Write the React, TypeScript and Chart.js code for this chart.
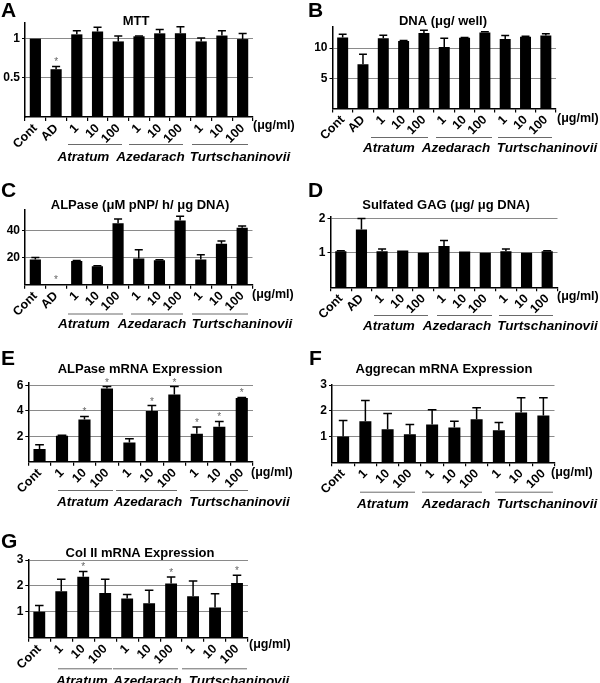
import React, { useEffect, useRef } from 'react';
import { Chart, registerables } from 'chart.js';

Chart.register(...registerables);

const FONT = '"Liberation Sans", Arial, Helvetica, sans-serif';
Chart.defaults.font.family = FONT;

// ---------- categories ----------
const catsWithAD = ['Cont', 'AD', '1', '10', '100', '1', '10', '100', '1', '10', '100'];
const catsNoAD = ['Cont', '1', '10', '100', '1', '10', '100', '1', '10', '100'];
const groupNames = ['Atratum', 'Azedarach', 'Turtschaninovii'];
const unitLabel = '(μg/ml)';

// ---------- A: MTT ----------
const mttValues = [1.0, 0.61, 1.055, 1.09, 0.965, 1.03, 1.068, 1.068, 0.965, 1.04, 0.995];
const mttErr = [0, 0.035, 0.045, 0.055, 0.07, 0.005, 0.05, 0.085, 0.045, 0.06, 0.07];
const mttSig = [0, 1, 0, 0, 0, 0, 0, 0, 0, 0, 0];
const mttTicks = [0.5, 1];

// ---------- B: DNA ----------
const dnaValues = [11.75, 7.35, 11.65, 11.2, 12.5, 10.2, 11.7, 12.6, 11.5, 11.9, 12.1];
const dnaErr = [0.55, 1.65, 0.5, 0.05, 0.45, 1.45, 0.05, 0.1, 0.6, 0.05, 0.3];
const dnaSig = [0, 0, 0, 0, 0, 0, 0, 0, 0, 0, 0];
const dnaTicks = [5, 10];

// ---------- C: ALPase activity ----------
const alpValues = [18.5, 0.6, 17.5, 13.6, 45.3, 19.3, 18.0, 47.3, 18.5, 30.1, 41.9];
const alpErr = [1.5, 0, 0.3, 0.3, 3.1, 6.5, 0.4, 3.1, 3.6, 2.0, 1.4];
const alpSig = [0, 1, 0, 0, 0, 0, 0, 0, 0, 0, 0];
const alpTicks = [20, 40];

// ---------- D: Sulfated GAG ----------
const gagValues = [1.05, 1.68, 1.05, 1.07, 1.0, 1.2, 1.04, 1.0, 1.05, 1.0, 1.05];
const gagErr = [0.01, 0.32, 0.06, 0, 0, 0.16, 0, 0, 0.06, 0, 0.01];
const gagSig = [0, 0, 0, 0, 0, 0, 0, 0, 0, 0, 0];
const gagTicks = [1, 2];

// ---------- E: ALPase mRNA ----------
const alpMrnaValues = [1.0, 2.04, 3.32, 5.74, 1.51, 3.97, 5.27, 2.19, 2.74, 4.99];
const alpMrnaErr = [0.33, 0.03, 0.23, 0.16, 0.29, 0.44, 0.63, 0.53, 0.42, 0.05];
const alpMrnaSig = [0, 0, 1, 1, 0, 1, 1, 1, 1, 1];
const alpMrnaTicks = [2, 4, 6];

// ---------- F: Aggrecan mRNA ----------
const aggValues = [1.0, 1.59, 1.28, 1.09, 1.47, 1.35, 1.67, 1.24, 1.93, 1.82];
const aggErr = [0.62, 0.81, 0.61, 0.38, 0.57, 0.24, 0.45, 0.3, 0.58, 0.69];
const aggSig = [0, 0, 0, 0, 0, 0, 0, 0, 0, 0];
const aggTicks = [1, 2, 3];

// ---------- G: Col II mRNA ----------
const colValues = [1.0, 1.79, 2.35, 1.73, 1.51, 1.33, 2.09, 1.6, 1.17, 2.11];
const colErr = [0.24, 0.47, 0.21, 0.53, 0.16, 0.5, 0.25, 0.59, 0.53, 0.3];
const colSig = [0, 0, 1, 0, 0, 0, 1, 0, 0, 1];
const colTicks = [1, 2, 3];

type PanelCfg = {
  box: [number, number, number, number];
  area: { l: number; t: number; r: number; b: number };
  letter: { text: string; x: number; y: number };
  title: { text: string; x: number; y: number };
  unit: { x: number; y: number };
  lineY: number;
  lines: number[][];
  labY: number;
  labX: number[];
  labels: string[];
  values: number[];
  err: number[];
  sig: number[];
  ymax: number;
  ticks: number[];
};

const panels: PanelCfg[] = [
  {
    box: [0, 0, 300, 170], area: { l: 25, t: 23, r: 253, b: 117 },
    letter: { text: 'A', x: 1, y: 17 }, title: { text: 'MTT', x: 136, y: 25 },
    unit: { x: 253, y: 129 }, lineY: 144, lines: [[68, 122], [129, 183], [192, 248]],
    labY: 161, labX: [83.5, 150.5, 240],
    labels: catsWithAD, values: mttValues, err: mttErr, sig: mttSig, ymax: 1.2, ticks: mttTicks,
  },
  {
    box: [300, 0, 300, 170], area: { l: 332.5, t: 27, r: 556, b: 108.5 },
    letter: { text: 'B', x: 308, y: 17 }, title: { text: 'DNA (μg/ well)', x: 443, y: 25 },
    unit: { x: 557, y: 122 }, lineY: 137, lines: [[371, 428], [436, 492], [498, 552]],
    labY: 152, labX: [389, 456, 547],
    labels: catsWithAD, values: dnaValues, err: dnaErr, sig: dnaSig, ymax: 13.5, ticks: dnaTicks,
  },
  {
    box: [0, 170, 300, 170], area: { l: 25, t: 210, r: 252.5, b: 284.7 },
    letter: { text: 'C', x: 1, y: 197 }, title: { text: 'ALPase (μM pNP/ h/ μg DNA)', x: 140, y: 209 },
    unit: { x: 252, y: 298 }, lineY: 313.5, lines: [[68, 123], [131, 183], [192, 248]],
    labY: 328, labX: [84, 152, 242],
    labels: catsWithAD, values: alpValues, err: alpErr, sig: alpSig, ymax: 55, ticks: alpTicks,
  },
  {
    box: [300, 170, 300, 170], area: { l: 330.5, t: 216.7, r: 557.5, b: 287.3 },
    letter: { text: 'D', x: 308, y: 197 }, title: { text: 'Sulfated GAG (μg/ μg DNA)', x: 446, y: 209 },
    unit: { x: 557, y: 300 }, lineY: 315, lines: [[374, 428], [437, 492], [499, 553]],
    labY: 329.5, labX: [389, 457, 547.5],
    labels: catsWithAD, values: gagValues, err: gagErr, sig: gagSig, ymax: 2.05, ticks: gagTicks,
  },
  {
    box: [0, 340, 300, 175], area: { l: 28.3, t: 382.7, r: 253, b: 461.7 },
    letter: { text: 'E', x: 1, y: 365 }, title: { text: 'ALPase mRNA Expression', x: 140, y: 373 },
    unit: { x: 251, y: 476 }, lineY: 490, lines: [[58, 113], [116, 177], [190, 248]],
    labY: 506, labX: [83, 148, 239.5],
    labels: catsNoAD, values: alpMrnaValues, err: alpMrnaErr, sig: alpMrnaSig, ymax: 6.2, ticks: alpMrnaTicks,
  },
  {
    box: [300, 340, 300, 175], area: { l: 332, t: 385, r: 554.5, b: 462.3 },
    letter: { text: 'F', x: 309, y: 365 }, title: { text: 'Aggrecan mRNA Expression', x: 444, y: 373 },
    unit: { x: 551, y: 476 }, lineY: 491.7, lines: [[360, 415], [422, 482], [495, 553]],
    labY: 507.5, labX: [383, 456, 547],
    labels: catsNoAD, values: aggValues, err: aggErr, sig: aggSig, ymax: 3, ticks: aggTicks,
  },
  {
    box: [0, 515, 300, 168], area: { l: 28.3, t: 560, r: 248, b: 637.7 },
    letter: { text: 'G', x: 1, y: 548 }, title: { text: 'Col II mRNA Expression', x: 140, y: 556.5 },
    unit: { x: 249, y: 648 }, lineY: 668.3, lines: [[58, 112], [113, 178], [182, 247]],
    labY: 685, labX: [82, 147.5, 239],
    labels: catsNoAD, values: colValues, err: colErr, sig: colSig, ymax: 3, ticks: colTicks,
  },
];

function makeExtras(p: PanelCfg) {
  const [bx, by] = p.box;
  return {
    id: 'extras',
    afterDatasetsDraw(chart: any) {
      const ctx = chart.ctx as CanvasRenderingContext2D;
      const meta = chart.getDatasetMeta(0);
      const ys = chart.scales.y;
      ctx.save();
      p.values.forEach((v, i) => {
        const e = p.err[i];
        const bar = meta.data[i];
        const x = bar.x;
        const hw = bar.width * 0.36;
        const y0 = ys.getPixelForValue(v);
        const y1 = ys.getPixelForValue(v + e);
        if (e > 0) {
          ctx.strokeStyle = '#000';
          ctx.lineWidth = 1.5;
          ctx.beginPath();
          ctx.moveTo(x, y0);
          ctx.lineTo(x, y1);
          ctx.moveTo(x - hw, y1);
          ctx.lineTo(x + hw, y1);
          ctx.stroke();
        }
        if (p.sig[i]) {
          ctx.fillStyle = '#666';
          ctx.font = `10px ${FONT}`;
          ctx.textAlign = 'center';
          ctx.textBaseline = 'alphabetic';
          ctx.fillText('*', x, y1 - 1);
        }
      });
      ctx.restore();
    },
    afterDraw(chart: any) {
      const ctx = chart.ctx as CanvasRenderingContext2D;
      ctx.save();
      ctx.textBaseline = 'alphabetic';
      ctx.fillStyle = '#000';
      // panel letter
      ctx.font = `bold 21px ${FONT}`;
      ctx.textAlign = 'left';
      ctx.fillText(p.letter.text, p.letter.x - bx, p.letter.y - by);
      // title
      ctx.font = `bold 13px ${FONT}`;
      ctx.textAlign = 'center';
      ctx.fillText(p.title.text, p.title.x - bx, p.title.y - by);
      // unit
      ctx.font = `bold 12.5px ${FONT}`;
      ctx.textAlign = 'left';
      ctx.fillText(unitLabel, p.unit.x - bx, p.unit.y - by);
      // group underlines
      ctx.strokeStyle = '#6a6a6a';
      ctx.lineWidth = 1;
      p.lines.forEach(([x1, x2]) => {
        ctx.beginPath();
        ctx.moveTo(x1 - bx, p.lineY - by + 0.5);
        ctx.lineTo(x2 - bx, p.lineY - by + 0.5);
        ctx.stroke();
      });
      // group labels
      ctx.font = `italic bold 13.5px ${FONT}`;
      ctx.textAlign = 'center';
      groupNames.forEach((g, i) => {
        ctx.fillText(g, p.labX[i] - bx, p.labY - by);
      });
      ctx.restore();
    },
  };
}

function BarPanel({ p }: { p: PanelCfg }) {
  const ref = useRef<HTMLCanvasElement | null>(null);
  useEffect(() => {
    if (!ref.current) return;
    const [bx, by, bw, bh] = p.box;
    const chart = new Chart(ref.current, {
      type: 'bar',
      data: {
        labels: p.labels,
        datasets: [
          {
            data: p.values,
            backgroundColor: '#000',
            borderWidth: 0,
            barPercentage: 0.54,
            categoryPercentage: 1,
          },
        ],
      },
      options: {
        animation: false,
        responsive: false,
        devicePixelRatio: 1,
        layout: { padding: { left: 0, top: p.area.t - by, right: bx + bw - p.area.r, bottom: 0 } },
        plugins: { legend: { display: false }, tooltip: { enabled: false }, title: { display: false } },
        scales: {
          x: {
            offset: true,
            grid: { display: true, drawOnChartArea: false, drawTicks: true, tickLength: 4, tickColor: '#000', offset: true, lineWidth: 1.2 },
            border: { display: true, color: '#000', width: 1.5 },
            ticks: {
              autoSkip: false, maxRotation: 45, minRotation: 45, padding: 0, color: '#000',
              font: { size: 12.5, weight: 'bold', family: FONT },
            },
            afterFit: (s: any) => { s.height = by + bh - p.area.b; },
          },
          y: {
            min: 0,
            max: p.ymax,
            afterBuildTicks: (s: any) => { s.ticks = p.ticks.map((v) => ({ value: v })); },
            grid: { color: '#8a8a8a', lineWidth: 1, tickLength: 3, tickColor: '#000' },
            border: { display: true, color: '#000', width: 1.5 },
            ticks: {
              color: '#000', padding: 2,
              font: { size: 12, weight: 'bold', family: FONT },
              callback: (v: any) => String(v),
            },
            afterFit: (s: any) => { s.width = p.area.l - bx; },
          },
        },
      } as any,
      plugins: [makeExtras(p)],
    });
    return () => chart.destroy();
  }, [p]);
  const [bx, by, bw, bh] = p.box;
  return (
    <canvas
      ref={ref}
      width={bw}
      height={bh}
      style={{ position: 'absolute', left: bx, top: by, width: bw, height: bh }}
    />
  );
}

export default function App() {
  return (
    <div style={{ position: 'absolute', left: 0, top: 0, width: 600, height: 683, background: '#fff', overflow: 'hidden' }}>
      {panels.map((p, i) => (
        <BarPanel key={i} p={p} />
      ))}
    </div>
  );
}
